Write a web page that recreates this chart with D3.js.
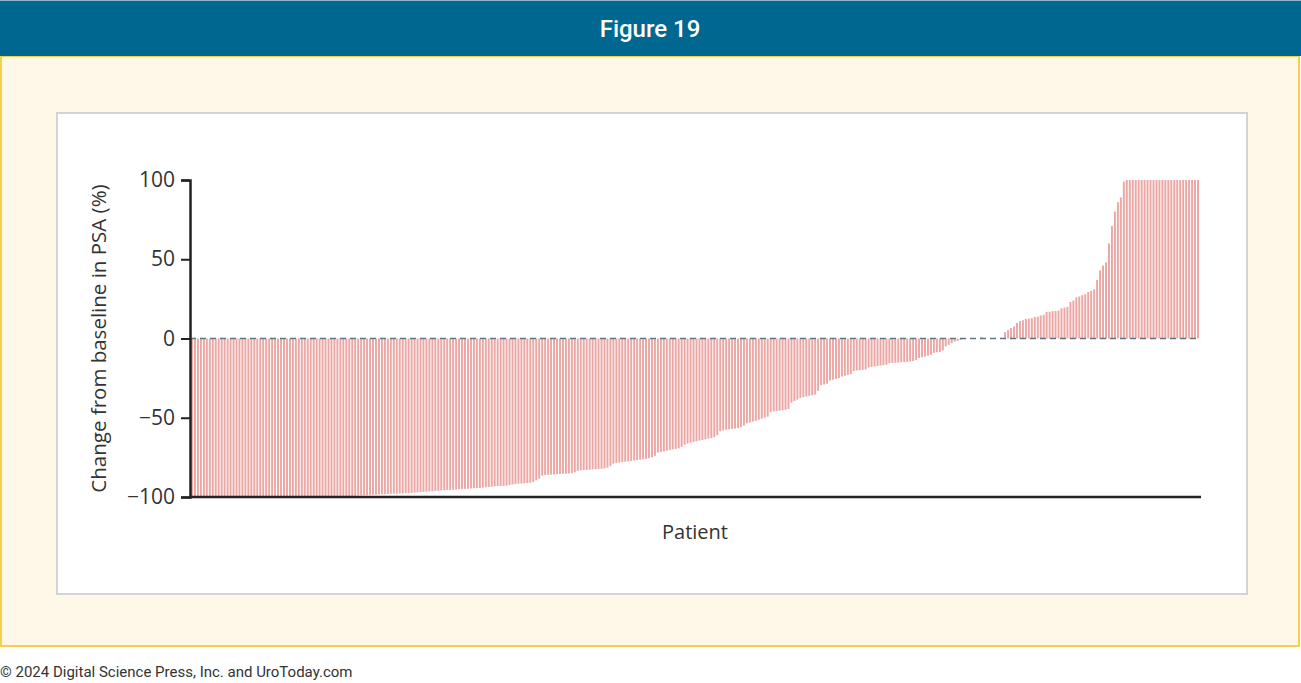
<!DOCTYPE html>
<html>
<head>
<meta charset="utf-8">
<script src="https://cdn.jsdelivr.net/npm/d3@7"></script>
<style>
  body { margin: 0; background: #fff; }
  svg { display: block; }
</style>
</head>
<body>
<svg width="1301" height="683"></svg>
<script>
// PSA change per patient (%), sorted
const psaChange = [
  -100, -100, -100, -100, -100, -100, -100, -100, -100, -100,
  -100, -100, -100, -100, -100, -100, -100, -100, -100, -100,
  -100, -100, -100, -100, -100, -100, -100, -100, -100, -100,
  -100, -100, -100, -100, -100, -100, -100, -100, -100, -100,
  -100, -100, -100, -100, -100, -100, -100, -100,
  -100, -99.9, -99.8, -99.7, -99.6, -99.5, -99.4, -99.3, -99.1, -99, -98.9, -98.8,
  -98.7, -98.6, -98.5, -98.4, -98.3, -98.2, -98.1, -98, -97.9, -97.9, -97.8, -97.7, -97.6, -97.5,
  -97.4, -97.2, -97.1, -96.9, -96.8, -96.6, -96.5, -96.4, -96.2, -96.1, -95.9, -95.8, -95.6,
  -95.5, -95.4, -95.3, -95.1, -95, -94.9, -94.8, -94.6, -94.5, -94.4,
  -94.3, -94.1, -93.9, -93.7, -93.5, -93.3, -93.2, -93.1, -93, -92.8,
  -92.4, -92.1, -91.8, -91.6, -91.5, -91.4, -91.2, -91, -90.5, -89.5, -88.5,
  -86.5, -86.2, -86, -85.9, -85.8, -85.6, -85.5, -85.4, -85.3, -85.2, -85, -84.5,
  -83.5, -83.2, -83, -82.9, -82.8, -82.6, -82.5, -82.3, -82.2, -82, -81.5, -80.5,
  -79, -78.5, -78.2, -78, -77.7, -77.5, -77.2, -77, -76.7, -76.5, -76.2, -76, -75.5, -75, -74,
  -72, -71.6, -71.2, -70.8, -70.4, -70, -69.7, -69.3, -68.5,
  -67, -66.3, -65.8, -65.3, -64.8, -64.4, -64, -63.6, -63.2, -62.8, -62.3, -61,
  -58.5, -58, -57.6, -57.3, -57, -56.8, -56.5, -56, -55,
  -53.5, -53, -52.5, -52, -51.3, -50.6, -50, -49.3,
  -46.5, -46, -45.8, -45.5, -45.3, -45, -44.5,
  -40.5, -39.5, -38.5,
  -37.5, -37, -36.6, -36.2, -35.8, -35.4, -33,
  -29.5, -29, -28.5,
  -26.5, -26, -25.5, -25,
  -24, -23.5, -23, -22.5,
  -20.5, -20.2, -20, -19.8, -19.5,
  -18.3, -18, -17.6, -17.3, -17, -16.8, -16.5,
  -15.6, -15.4, -15.3, -15.2, -15, -14.9, -14.8, -14.6, -14.3, -13.5,
  -12.3, -11.8, -11.3, -10.8, -10.3,
  -9, -8.7, -8.5, -7.5,
  -5, -4, -3,
  -2, -1.5, -1, -0.5, -0.2,
  0, 0, 0, 0, 1, 0, 0, 0, 0, 0, 0, 0,
  4, 5.4, 6.6, 7.5, 9.8, 11, 11.5, 12.3, 12.5, 12.8,
  13.6, 13.8, 14.5, 15, 16.7, 16.9, 17.2, 17.4, 17.6, 19,
  19.5, 20, 23, 24, 26, 26.5, 27.4, 28, 29.3, 30,
  31, 37, 43, 46, 48, 60, 71, 80, 86, 89, 99,
  100, 100, 100, 100, 100, 100, 100, 100, 100, 100,
  100, 100, 100, 100, 100, 100, 100, 100, 100, 100,
  100, 100, 100, 100, 100
];
const yTicks = [-100, -50, 0, 50, 100];
const figTitle = 'Figure 19';
const yTitle = 'Change from baseline in PSA (%)';
const xTitle = 'Patient';
const credit = '\u00a9 2024 Digital Science Press, Inc. and UroToday.com';

const svg = d3.select('svg');
const font = "'Open Sans', 'Noto Sans', sans-serif";

// frame: header, cream box, white panel
svg.append('rect').attr('x', 0).attr('y', 0).attr('width', 1301).attr('height', 683).attr('fill', '#fff');
svg.append('rect')
  .attr('x', 1).attr('y', 56).attr('width', 1298).attr('height', 590)
  .attr('fill', '#fff8e9').attr('stroke', '#f6d04d').attr('stroke-width', 2);
svg.append('rect').attr('x', 0).attr('y', 0).attr('width', 1301).attr('height', 56).attr('fill', '#006890');
svg.append('rect').attr('x', 0).attr('y', 0).attr('width', 1301).attr('height', 1).attr('fill', '#8fb3c6');
svg.append('text')
  .attr('x', 650).attr('y', 37)
  .attr('text-anchor', 'middle')
  .attr('fill', '#fff')
  .attr('font-family', "Roboto, sans-serif")
  .attr('font-weight', 500)
  .attr('font-size', '24px')
  .text(figTitle);
svg.append('rect')
  .attr('x', 57).attr('y', 113).attr('width', 1190).attr('height', 481)
  .attr('fill', '#fff').attr('stroke', '#d3d3d3').attr('stroke-width', 2);

const x = d3.scaleBand().domain(d3.range(psaChange.length)).range([190, 1200]).padding(0.34),
  y = d3.scaleLinear().domain([-100, 100]).range([497, 180]);

svg.append('g')
  .selectAll('rect')
  .data(psaChange)
  .enter()
  .append('rect')
  .attr('x', (d, i) => x(i))
  .attr('width', x.bandwidth())
  .attr('y', (d) => y(Math.max(0, d)))
  .attr('height', (d) => Math.abs(y(d) - y(0)))
  .attr('fill', '#eba7a4');

// zero reference line
svg.append('line')
  .attr('x1', 190).attr('x2', 1200)
  .attr('y1', y(0)).attr('y2', y(0))
  .attr('stroke', '#5d7884')
  .attr('stroke-width', 1.5)
  .attr('stroke-dasharray', '6,4');

const yAxis = svg.append('g')
  .attr('transform', 'translate(190,0)')
  .call(d3.axisLeft(y).tickValues(yTicks).tickSize(9).tickPadding(6));
yAxis.select('.domain').attr('stroke', '#222').attr('stroke-width', 2.5);
yAxis.selectAll('.tick line').attr('stroke', '#222').attr('stroke-width', 2);
yAxis.selectAll('.tick text')
  .attr('font-family', font).attr('font-size', '21px').attr('fill', '#333');

svg.append('line')
  .attr('x1', 189).attr('x2', 1201)
  .attr('y1', y(-100)).attr('y2', y(-100))
  .attr('stroke', '#222').attr('stroke-width', 2.5);

svg.append('text')
  .attr('transform', 'translate(106,' + y(0) + ') rotate(-90)')
  .attr('text-anchor', 'middle')
  .attr('font-family', font)
  .attr('font-size', '20.5px')
  .attr('fill', '#333')
  .text(yTitle);

svg.append('text')
  .attr('x', 695).attr('y', 539)
  .attr('text-anchor', 'middle')
  .attr('font-family', font)
  .attr('font-size', '20px')
  .attr('fill', '#333')
  .text(xTitle);

svg.append('text')
  .attr('x', 0).attr('y', 677)
  .attr('font-family', "Roboto, sans-serif")
  .attr('font-size', '15px')
  .attr('fill', '#333')
  .text(credit);
</script>
</body>
</html>
